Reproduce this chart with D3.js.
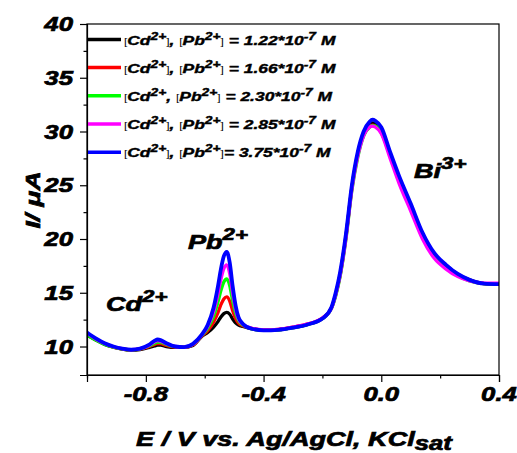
<!DOCTYPE html>
<html><head><meta charset="utf-8">
<script src="https://cdnjs.cloudflare.com/ajax/libs/d3/7.8.5/d3.min.js"></script>
<style>body{margin:0;background:#fff}svg{display:block}</style>
</head><body><div id="chart"></div>
<script>
const potential = [-1.00,-0.97,-0.94,-0.91,-0.88,-0.85,-0.82,-0.79,-0.77,-0.76,-0.75,-0.73,-0.70,-0.67,-0.64,-0.61,-0.59,-0.57,-0.555,-0.545,-0.535,-0.525,-0.515,-0.505,-0.495,-0.485,-0.47,-0.44,-0.40,-0.35,-0.30,-0.25,-0.20,-0.17,-0.155,-0.14,-0.12,-0.10,-0.08,-0.06,-0.04,-0.03,-0.02,0.00,0.03,0.06,0.10,0.14,0.18,0.22,0.26,0.30,0.35,0.40];
const black = [11.05,10.6,10.2,9.93,9.76,9.66,9.72,9.9,10.05,10.12,10.12,10.0,9.92,9.92,10.1,10.94,11.3,11.81,12.32,12.75,13.06,13.18,13.0,12.56,12.2,12.0,11.87,11.65,11.5,11.55,11.75,12.05,12.6,13.55,14.85,16.7,20.3,24.8,27.9,29.8,30.6,30.8,30.7,30.1,27.9,25.7,23.1,20.5,18.6,17.55,16.7,16.2,15.85,15.8];
const red = [11.15,10.65,10.25,9.95,9.78,9.68,9.75,9.98,10.2,10.28,10.27,10.1,9.95,9.93,10.15,10.98,11.48,12.27,13.16,13.89,14.43,14.62,14.23,13.34,12.61,12.18,11.93,11.68,11.55,11.6,11.8,12.1,12.65,13.55,14.8,16.6,20.2,24.7,27.8,29.7,30.45,30.6,30.5,29.95,27.75,25.55,22.95,20.35,18.45,17.45,16.65,16.15,15.85,15.8];
const green = [11.1,10.6,10.2,9.95,9.78,9.68,9.78,10.05,10.3,10.4,10.38,10.2,9.98,9.95,10.2,11.03,11.69,12.8,14.13,15.2,16.0,16.28,15.65,14.24,13.08,12.39,12.0,11.65,11.5,11.55,11.75,12.05,12.6,13.5,14.7,16.5,20.0,24.5,27.6,29.6,30.4,30.55,30.5,29.9,27.7,25.5,22.9,20.3,18.4,17.4,16.6,16.1,15.85,15.8];
const magenta = [11.25,10.7,10.28,9.98,9.8,9.7,9.8,10.1,10.45,10.55,10.5,10.25,10.0,9.95,10.2,11.07,11.85,13.22,14.9,16.25,17.25,17.6,16.77,14.95,13.46,12.55,12.05,11.7,11.55,11.6,11.8,12.1,12.65,13.5,14.8,16.6,20.1,24.6,27.7,29.6,30.4,30.5,30.4,29.8,27.5,25.2,22.6,20.0,18.2,17.2,16.5,16.1,15.9,15.9];
const blue = [11.3,10.75,10.3,10.0,9.8,9.7,9.8,10.15,10.55,10.65,10.6,10.3,10.0,9.95,10.25,11.1,12.0,13.6,15.6,17.2,18.4,18.8,17.8,15.6,13.8,12.7,12.1,11.65,11.5,11.55,11.75,12.05,12.6,13.6,15.0,16.9,20.5,25.0,28.1,30.0,30.9,31.1,31.0,30.4,28.1,25.9,23.3,20.6,18.7,17.6,16.75,16.2,15.85,15.8];
const seriesNames = ["black","red","green","magenta","blue"];
const seriesColors = ["#000000","#ff0000","#00ff00","#ff00ff","#0000ff"];
const seriesValues = [black, red, green, magenta, blue];
const legendConc = ["1.22","1.66","2.30","2.85","3.75"];
const xTicks = [-1.0,-0.8,-0.6,-0.4,-0.2,0.0,0.2,0.4];
const xTickLabels = ["","-0.8","","-0.4","","0.0","","0.4"];
const yTicks = [10,12.5,15,17.5,20,22.5,25,27.5,30,32.5,35,37.5,40];
const yTickLabels = ["10","","15","","20","","25","","30","","35","","40"];

const W = 517, H = 453;
const L = 87, R = 499, T = 24, B = 375;
const SX = 1.32;
const FONT = "'Liberation Sans', Arial, sans-serif";

const svg = d3.select("#chart").append("svg").attr("width", W).attr("height", H);
const x = d3.scaleLinear().domain([-1.0, 0.4]).range([L, R]);
const y = d3.scaleLinear().domain([7.35, 40]).range([B, T]);

svg.append("defs").append("clipPath").attr("id","clip")
  .append("rect").attr("x", L).attr("y", T).attr("width", R-L).attr("height", B-T);

const line = d3.line().x(d => x(d[0])).y(d => y(d[1])).curve(d3.curveMonotoneX);
const gLines = svg.append("g").attr("clip-path","url(#clip)");
seriesValues.forEach((vals, i) => {
  gLines.append("path")
    .datum(potential.map((p, j) => [p, vals[j]]))
    .attr("d", line).attr("fill","none")
    .attr("stroke", seriesColors[i]).attr("stroke-width", i === 4 ? 3.8 : 3.3)
    .attr("stroke-linejoin","round");
});

// frame
svg.append("rect").attr("x", L).attr("y", T).attr("width", R-L).attr("height", B-T)
  .attr("fill","none").attr("stroke","#000").attr("stroke-width",1.2);

// axes
const xAxis = d3.axisBottom(x).tickValues(xTicks).tickFormat("").tickSizeOuter(0).tickSize(7);
const gx = svg.append("g").attr("transform",`translate(0,${B})`).call(xAxis);
gx.selectAll(".tick line").attr("y2", (d,i) => xTickLabels[i] ? 7 : 3.5).attr("stroke-width",1.2);
gx.select(".domain").attr("stroke-width",1.2);
const yAxis = d3.axisLeft(y).tickValues(yTicks).tickFormat("").tickSizeOuter(0).tickSize(7);
const gy = svg.append("g").attr("transform",`translate(${L},0)`).call(yAxis);
gy.selectAll(".tick line").attr("x2", (d,i) => yTickLabels[i] ? -7 : -3.5).attr("stroke-width",1.2);
gy.select(".domain").attr("stroke-width",1.2);

function stext(px, py, anchor, size, rot, sw) {
  return svg.append("text")
    .attr("transform", `translate(${px},${py})` + (rot ? ` rotate(${rot})` : "") + ` scale(${SX},1)`)
    .attr("text-anchor", anchor)
    .attr("font-family", FONT).attr("font-weight","bold").attr("font-style","italic")
    .attr("font-size", size).attr("fill","#000")
    .attr("stroke","#000").attr("stroke-width", sw === undefined ? 0.7 : sw);
}

xTicks.forEach((t, i) => {
  if (!xTickLabels[i]) return;
  stext(x(t), 401, "middle", 19.5).text(xTickLabels[i]);
});
yTicks.forEach((t, i) => {
  if (!yTickLabels[i]) return;
  stext(73, y(t) + 7, "end", 19.5).text(yTickLabels[i]);
});

// axis titles
const xt = stext((L+R)/2 + 1, 446, "middle", 20.5);
xt.append("tspan").text("E / V vs. Ag/AgCl, KCl");
xt.append("tspan").attr("dy", 4).attr("font-size", 19.5).text("sat");
const yt = stext(40, 200, "middle", 20, -90);
yt.text("I/ μA");

// peak labels
function ion(px, py, base, sup, size) {
  const t = stext(px, py, "start", size);
  t.append("tspan").text(base);
  t.append("tspan").attr("dy", -size*0.45).attr("font-size", size*0.82).text(sup);
}
ion(106, 311, "Cd", "2+", 20.5);
ion(188, 249, "Pb", "2+", 20.5);
ion(414, 178, "Bi", "3+", 20.5);

// legend
const legY = [39.5, 67.5, 95.7, 124, 152.2];
seriesNames.forEach((n, i) => {
  svg.append("line").attr("x1", 88).attr("x2", 121).attr("y1", legY[i]).attr("y2", legY[i])
    .attr("stroke", seriesColors[i]).attr("stroke-width", 3.4);
  const t = stext(124, legY[i] + 5, "start", 13.2, null, 0.4);
  const brk = (s, dy) => t.append("tspan").attr("dy", dy || 0).attr("font-weight","normal").attr("font-style","normal").attr("font-size",9).attr("stroke-width",0).text(s);
  const sup = (s) => { t.append("tspan").attr("dy",-5).attr("font-size",10.5).text(s); };
  brk("[");
  t.append("tspan").text("Cd");
  sup("2+");
  if (i === 2) { t.append("tspan").attr("dy",5).text(", "); } else { brk("]", 5); t.append("tspan").text(", "); }
  brk("[");
  t.append("tspan").text("Pb");
  sup("2+");
  brk("]", 5);
  t.append("tspan").text((i === 4 ? "= " : " = ") + legendConc[i] + "*10");
  sup("-7");
  t.append("tspan").attr("dy",5).text(" M");
});
</script></body></html>
